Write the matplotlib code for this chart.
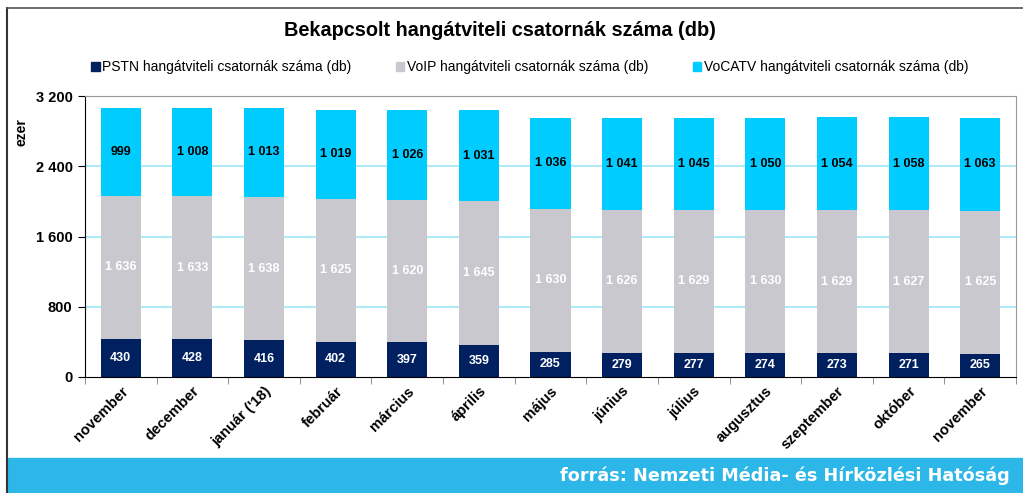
import matplotlib
matplotlib.use("Agg")
import matplotlib.pyplot as plt
import numpy as np
from matplotlib.patches import Rectangle
from matplotlib.lines import Line2D

plt.rcParams['font.family'] = ['Liberation Sans', 'DejaVu Sans']

months = ["november", "december", "január ('18)", "február", "március", "április",
          "május", "június", "július", "augusztus", "szeptember", "október", "november"]
pstn = [430, 428, 416, 402, 397, 359, 285, 279, 277, 274, 273, 271, 265]
voip = [1636, 1633, 1638, 1625, 1620, 1645, 1630, 1626, 1629, 1630, 1629, 1627, 1625]
vocatv = [999, 1008, 1013, 1019, 1026, 1031, 1036, 1041, 1045, 1050, 1054, 1058, 1063]
series_names = ["PSTN hangátviteli csatornák száma (db)",
                "VoIP hangátviteli csatornák száma (db)",
                "VoCATV hangátviteli csatornák száma (db)"]
yticks = [0, 800, 1600, 2400, 3200]

c_pstn = "#002060"
c_voip = "#C9C8CE"
c_vocatv = "#00CCFF"

def fmt(v):
    return f"{v:,}".replace(",", " ")

fig = plt.figure(figsize=(10.23, 4.93), dpi=100)
W, H = 1023, 493

ax = fig.add_axes([85 / W, 1 - 377 / H, (1016 - 85) / W, (377 - 96) / H])
x = np.arange(len(months))
bw = 0.56
p = np.array(pstn)
v = np.array(voip)
c = np.array(vocatv)
ax.bar(x, p, bw, color=c_pstn, zorder=2)
ax.bar(x, v, bw, bottom=p, color=c_voip, zorder=2)
ax.bar(x, c, bw, bottom=p + v, color=c_vocatv, zorder=2)

for i in range(len(months)):
    ax.text(x[i], p[i] / 2, fmt(pstn[i]), ha='center', va='center', color='white',
            fontweight='bold', fontsize=9, zorder=3)
    ax.text(x[i], p[i] + v[i] / 2, fmt(voip[i]), ha='center', va='center', color='white',
            fontweight='bold', fontsize=9, zorder=3)
    ax.text(x[i], p[i] + v[i] + c[i] / 2, fmt(vocatv[i]), ha='center', va='center',
            color='black', fontweight='bold', fontsize=9, zorder=3)

ax.set_xlim(-0.5, len(months) - 0.5)
ax.set_ylim(0, 3200)
ax.set_yticks(yticks)
ax.set_yticklabels([fmt(t) for t in yticks], fontweight='bold', fontsize=10.5)
for t in yticks[1:-1]:
    ax.axhline(t, color="#9FE6F7", lw=1.2, zorder=1)
ax.set_xticks(x)
ax.set_xticklabels(months, rotation=45, ha='right', rotation_mode='anchor',
                   fontweight='bold', fontsize=10.6)
ax.tick_params(axis='x', length=0, pad=5)
ax.set_xticks(np.arange(-0.5, len(months), 1.0), minor=True)
ax.tick_params(axis='x', which='minor', length=5, direction='out', color='#808080')
ax.tick_params(axis='y', length=5, direction='out', pad=4)
for s in ['top', 'right']:
    ax.spines[s].set_color('#999999')
ax.spines['left'].set_color('black')
ax.spines['bottom'].set_color('black')

fig.text(22 / W, 1 - 132 / H, "ezer", rotation=90, ha='center', va='center',
         fontweight='bold', fontsize=10)

fig.text(500 / W, 1 - 30 / H, "Bekapcsolt hangátviteli csatornák száma (db)",
         ha='center', va='center', fontweight='bold', fontsize=14.3)

handles = [Rectangle((0, 0), 1, 1, color=col) for col in (c_pstn, c_voip, c_vocatv)]
fig.legend(handles, series_names, loc='center', bbox_to_anchor=(530 / W, 1 - 67 / H),
           ncol=3, frameon=False, fontsize=10, handlelength=0.6, handleheight=0.6,
           handletextpad=0.2, columnspacing=3.2)

# outer frame
fig.add_artist(Line2D([7 / W, 7 / W], [0, 1 - 8 / H], transform=fig.transFigure,
                      color='#333333', lw=1.5))
fig.add_artist(Line2D([7 / W, 1], [1 - 8 / H, 1 - 8 / H], transform=fig.transFigure,
                      color='#555555', lw=1.2))

# bottom banner
fig.add_artist(Rectangle((8 / W, 0), 1 - 8 / W, 35 / H, transform=fig.transFigure,
                         color="#2DB7E9", zorder=0))
fig.text(1010 / W, 1 - 476 / H, "forrás: Nemzeti Média- és Hírközlési Hatóság",
         ha='right', va='center', color='white', fontweight='bold', fontsize=12.7,
         family='DejaVu Sans')

fig.savefig("out.png", dpi=100)
